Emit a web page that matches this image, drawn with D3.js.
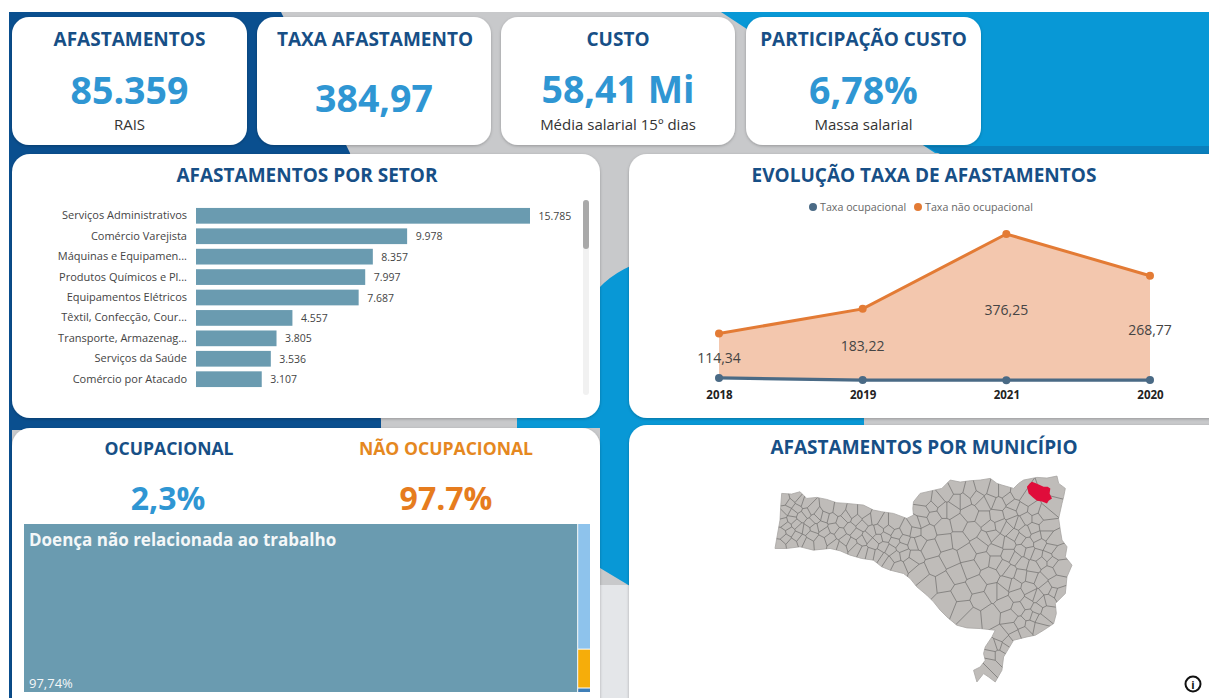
<!DOCTYPE html>
<html><head><meta charset="utf-8">
<script src="https://cdn.jsdelivr.net/npm/d3@7"></script>
<style>html,body{margin:0;padding:0;background:#fff;overflow:hidden}svg{display:block}text{font-family:"Open Sans","Noto Sans",sans-serif}</style>
</head><body><svg id="c" width="1209" height="698"></svg>
<script>
const sectors=["Serviços Administrativos","Comércio Varejista","Máquinas e Equipamen...","Produtos Químicos e Pl...","Equipamentos Elétricos","Têxtil, Confecção, Cour...","Transporte, Armazenag...","Serviços da Saúde","Comércio por Atacado"];
const sectorValues=[15785,9978,8357,7997,7687,4557,3805,3536,3107];
const years=["2018","2019","2021","2020"];
const rateOccupational=[8,2.5,2.2,2.3];
const rateNonOccupational=[114.34,183.22,376.25,268.77];
const kpiTitles=["AFASTAMENTOS","TAXA AFASTAMENTO","CUSTO","PARTICIPAÇÃO CUSTO"];
const kpiValues=["85.359","384,97","58,41 Mi","6,78%"];
const kpiNotes=["RAIS","","Média salarial 15º dias","Massa salarial"];
const treemapNames=["Doença não relacionada ao trabalho","Outros","Acidente de trabalho","Doença do trabalho"];
const treemapValues=[97.74,1.68,0.52,0.06];
const mapOutline=[[75,265],[82,225],[90,180],[92,140],[95,100],[125,102],[150,95],[170,115],[200,112],[230,118],[260,128],[290,130],[340,135],[370,150],[395,155],[430,160],[470,175],[490,165],[488,145],[490,125],[510,100],[545,92],[575,85],[590,70],[600,60],[630,66],[660,62],[690,60],[720,55],[740,70],[755,75],[790,85],[805,70],[820,60],[860,52],[890,54],[920,48],[925,70],[945,85],[940,110],[935,130],[925,175],[930,210],[935,240],[950,260],[945,290],[965,315],[950,350],[945,400],[915,430],[918,460],[910,490],[880,510],[855,525],[830,530],[790,540],[775,565],[760,590],[755,630],[735,665],[715,650],[700,640],[680,665],[670,630],[690,620],[705,600],[700,580],[705,560],[725,530],[735,510],[690,505],[650,503],[620,495],[590,470],[570,450],[550,425],[530,405],[500,380],[480,355],[460,340],[420,330],[395,320],[370,300],[335,295],[300,285],[270,272],[240,265],[190,270],[150,260],[110,265]];
const highlightedCity=[[830,80],[838,70],[845,65],[862,72],[880,80],[892,80],[900,85],[898,100],[905,115],[895,122],[890,130],[875,124],[860,122],[848,112],[835,100]];
const citySeeds=[[105,120],[135,112],[110,150],[140,145],[165,130],[100,185],[125,178],[155,170],[185,150],[95,220],[120,215],[150,205],[180,190],[205,165],[90,255],[125,250],[155,240],[185,225],[215,200],[235,145],[265,150],[245,175],[275,185],[210,245],[240,235],[270,220],[300,205],[305,160],[340,160],[375,175],[335,195],[365,215],[400,190],[430,190],[270,260],[305,250],[335,240],[370,250],[405,230],[440,225],[340,275],[385,285],[420,270],[455,260],[415,305],[445,320],[480,305],[470,210],[500,190],[525,120],[560,125],[520,155],[550,170],[590,100],[620,85],[640,120],[600,150],[660,95],[695,85],[730,95],[700,130],[745,130],[775,115],[800,100],[660,160],[625,190],[580,200],[530,215],[505,245],[540,265],[585,245],[625,240],[665,210],[700,175],[740,170],[780,160],[815,145],[850,150],[880,160],[905,130],[915,90],[805,190],[770,205],[725,225],[690,255],[650,280],[600,295],[555,320],[510,340],[490,290],[535,370],[580,365],[620,340],[660,325],[700,300],[735,270],[775,250],[810,235],[850,205],[885,200],[905,240],[870,250],[835,275],[795,295],[760,320],[720,345],[680,375],[635,400],[590,425],[640,445],[690,420],[730,395],[770,370],[810,345],[850,320],[890,290],[920,280],[925,320],[895,335],[870,360],[835,385],[800,405],[765,430],[720,465],[665,470],[780,470],[805,445],[830,430],[860,410],[890,385],[915,370],[925,400],[895,420],[860,445],[835,465],[810,490],[785,505],[840,495],[870,480],[890,455],[755,530],[730,560],[770,545],[745,585],[720,610],[700,630],
[120,130],[150,125],[95,165],[128,160],[170,158],[110,198],[138,192],[168,208],[108,235],[140,228],[172,248],[195,175],[225,170],[192,205],[225,215],[250,205],[255,255],[285,240],[290,170],[320,180],[352,178],[320,222],[350,232],[385,210],[415,210],[385,235],[320,265],[360,280],[400,260],[435,245],[400,295],[435,290],[465,285],[490,250],[462,240],[495,215],[515,185],[545,140],[580,150],[620,120],[680,110],[720,120],[760,95],[790,135],[830,120],[860,175],[830,175],[790,185],[750,195],[720,200],[705,235],[745,245],[790,225],[825,215],[830,250],[860,230],[885,225],[900,265],[860,285],[815,270],[775,285],[735,305],[815,310],[780,335],[875,305],[905,305],[845,350],[790,375],[750,395],[845,405],[875,425],[910,395],[850,470],[820,515],[865,500],[795,525],[745,555],[725,585],[760,560]];

const svg=d3.select("#c");
const defs=svg.append("defs");
const sh=defs.append("filter").attr("id","sh").attr("x","-5%").attr("y","-5%").attr("width","110%").attr("height","112%");
sh.append("feDropShadow").attr("dx",0).attr("dy",1).attr("stdDeviation",1.5).attr("flood-color","#000").attr("flood-opacity",.25);
defs.append("filter").attr("id","soft").append("feGaussianBlur").attr("stdDeviation",.45);

// background shapes
const navy="#0a4f8f",cyan="#0898d6",gray="#c8c9cb";
svg.append("rect").attr("x",9).attr("y",12).attr("width",1200).attr("height",686).attr("fill",gray);
svg.append("rect").attr("x",600).attr("y",585).attr("width",29).attr("height",113).attr("fill","#e4e6e9");
svg.append("path").attr("fill",navy).attr("d","M9,12H281L350,153L381,420V430H12V698H9Z");
svg.append("path").attr("fill",cyan).attr("d","M721,12H1209V153H935Z");
svg.append("path").attr("fill","#0a7fbc").attr("d","M925,146H1209V154H940Z");
svg.append("path").attr("fill",cyan).attr("d","M517,428V416L590,300Q605,275 640,262L864,262V428H640V592L600,568V428Z");

function card(x,y,w,h,r){svg.append("rect").attr("x",x).attr("y",y).attr("width",w).attr("height",h).attr("rx",r).attr("fill","#fff").attr("filter","url(#sh)");}
const titleC="#174f86",valueC="#2f96d3";
function txt(x,y,s,size,weight,fill,anchor="middle"){return svg.append("text").attr("x",x).attr("y",y).attr("text-anchor",anchor).attr("dominant-baseline","central").attr("font-size",size).attr("font-weight",weight).attr("fill",fill).text(s);}

// KPI cards
const kpiX=[12,257,501,746],kpiW=[235,234,234,235],kpiY=[89,97,88,89];
kpiTitles.forEach((t,i)=>{
  card(kpiX[i],17,kpiW[i],128,17);
  const cx=kpiX[i]+kpiW[i]/2;
  txt(cx-(i===0?0:i===1?-1:0),39,t,19,700,titleC);
  txt(cx,kpiY[i],kpiValues[i],37.5,700,valueC);
  if(kpiNotes[i])txt(cx,124,kpiNotes[i],15,400,"#333");
});

// panels
card(12,154,588,264,18);card(629,154,600,264,18);card(12,428,588,300,18);card(629,425,600,300,18);

// bars
txt(307,175,"AFASTAMENTOS POR SETOR",19,700,titleC);
const bx=d3.scaleLinear().domain([0,15785]).range([196,530]);
const by=d3.scaleBand().domain(sectors).range([205.5,389.5]).paddingInner(.23).paddingOuter(.12);
const barG=svg.append("g");
barG.selectAll("rect").data(sectors).join("rect").attr("x",bx(0)).attr("y",d=>by(d)).attr("height",by.bandwidth()).attr("width",(d,i)=>bx(sectorValues[i])-bx(0)).attr("fill","#6a9bb0");
barG.selectAll("text.v").data(sectors).join("text").attr("class","v").attr("x",(d,i)=>bx(sectorValues[i])+8.5).attr("y",d=>by(d)+by.bandwidth()/2).attr("dominant-baseline","central").attr("font-size",10.5).attr("fill","#444").text((d,i)=>d3.format(",")(sectorValues[i]).replace(/,/g,"."));
const ya=svg.append("g").attr("transform","translate(196,0)").call(d3.axisLeft(by).tickSize(0).tickPadding(9));
ya.select(".domain").remove();
ya.selectAll("text").attr("font-size",11).attr("fill","#444").style("font-family",'"Open Sans"');
svg.append("rect").attr("x",583).attr("y",200).attr("width",6).attr("height",195).attr("rx",3).attr("fill","#f1f1f1");
svg.append("rect").attr("x",583).attr("y",200).attr("width",6).attr("height",49).attr("rx",3).attr("fill","#a9a9a9");

// line + area
txt(924,175,"EVOLUÇÃO TAXA DE AFASTAMENTOS",19,700,titleC);
const lx=d3.scalePoint().domain(years).range([719,1150]);
const ly=d3.scaleLinear().domain([0,378.5]).range([381,234]);
const rows=years.map((y,i)=>({y,low:rateOccupational[i],high:rateOccupational[i]+rateNonOccupational[i],v:rateNonOccupational[i]}));
svg.append("path").datum(rows).attr("fill","#f3c7ae").attr("d",d3.area().x(d=>lx(d.y)).y0(d=>ly(d.low)).y1(d=>ly(d.high)));
const blueC="#4a6a85",orC="#e37b35";
svg.append("path").datum(rows).attr("fill","none").attr("stroke",blueC).attr("stroke-width",3.2).attr("d",d3.line().x(d=>lx(d.y)).y(d=>ly(d.low)));
svg.append("path").datum(rows).attr("fill","none").attr("stroke",orC).attr("stroke-width",3).attr("d",d3.line().x(d=>lx(d.y)).y(d=>ly(d.high)));
svg.selectAll("circle.b").data(rows).join("circle").attr("class","b").attr("cx",d=>lx(d.y)).attr("cy",d=>ly(d.low)).attr("r",4).attr("fill",blueC);
svg.selectAll("circle.o").data(rows).join("circle").attr("class","o").attr("cx",d=>lx(d.y)).attr("cy",d=>ly(d.high)).attr("r",4).attr("fill",orC);
const labelDy=[24,37,75,54];
rows.forEach((d,i)=>txt(lx(d.y),ly(d.high)+labelDy[i],String(d.v).replace(".",",").padEnd(6,"0"),14,400,"#444"));
const xa=svg.append("g").attr("transform","translate(0,391)").call(d3.axisBottom(lx).tickSize(0).tickPadding(0));
xa.select(".domain").remove();
xa.selectAll("text").attr("font-size",11.5).attr("font-weight",700).attr("fill","#222").style("font-family",'"Open Sans"');
svg.append("circle").attr("cx",813).attr("cy",207).attr("r",4).attr("fill",blueC);
txt(820,207,"Taxa ocupacional",10.7,400,"#666","start");
svg.append("circle").attr("cx",918).attr("cy",207).attr("r",4).attr("fill",orC);
txt(925,207,"Taxa não ocupacional",10.7,400,"#666","start");

// occupational KPI + treemap
txt(169,448,"OCUPACIONAL",17.6,700,titleC);
txt(446,448,"NÃO OCUPACIONAL",17.6,700,"#e5881f");
txt(168,497,"2,3%",32,700,valueC);
txt(446,497,"97.7%",32,700,"#e67c1e");
const troot=d3.hierarchy({children:[{name:treemapNames[0],value:treemapValues[0]},{children:treemapNames.slice(1).map((n,i)=>({name:n,value:treemapValues[i+1]}))}]}).sum(d=>d.value||0);
d3.treemap().size([566,168]).paddingInner(1).tile((n,a,b,c,d)=>(n.depth===0?d3.treemapDice:d3.treemapSlice)(n,a,b,c,d))(troot);
const tmColors=["#6a9bb0","#8ec3ec","#f6ad0a","#3f7fb8"];
const tg=svg.append("g").attr("transform","translate(24,524)");
tg.selectAll("rect").data(troot.leaves()).join("rect").attr("x",d=>d.x0).attr("y",d=>d.y0).attr("width",d=>d.x1-d.x0).attr("height",d=>d.y1-d.y0).attr("fill",(d,i)=>tmColors[i]);
txt(29,539,treemapNames[0],17,700,"#f4f7f8","start");
txt(29,683,String(treemapValues[0]).replace(".",",")+"%",13,400,"#f4f7f8","start");

// map
txt(924,447,"AFASTAMENTOS POR MUNICÍPIO",19,700,titleC);
const outlineGeo={type:"Polygon",coordinates:[mapOutline.concat([mapOutline[0]])]};
const proj=d3.geoIdentity().fitExtent([[775,476],[1072,682]],outlineGeo);
const gp=d3.geoPath(proj);
defs.append("clipPath").attr("id","sc").append("path").attr("d",gp(outlineGeo));
const mapG=svg.append("g").attr("filter","url(#soft)");
mapG.append("path").attr("d",gp(outlineGeo)).attr("fill","#bfbcb9").attr("stroke","#a8a6a3").attr("stroke-width",.8);
const vor=d3.Delaunay.from(citySeeds.map(proj)).voronoi([760,460,1090,695]);
mapG.append("g").attr("clip-path","url(#sc)").append("path").attr("d",vor.render()).attr("fill","none").attr("stroke","#6f6d6b").attr("stroke-width",.7);
mapG.append("path").attr("d",gp({type:"Polygon",coordinates:[highlightedCity.concat([highlightedCity[0]])]})).attr("fill","#e0103a");

// info icon
svg.append("circle").attr("cx",1193).attr("cy",684).attr("r",7.5).attr("fill","#fff").attr("stroke","#111").attr("stroke-width",2);
txt(1193,684,"i",11,700,"#111");
</script></body></html>
